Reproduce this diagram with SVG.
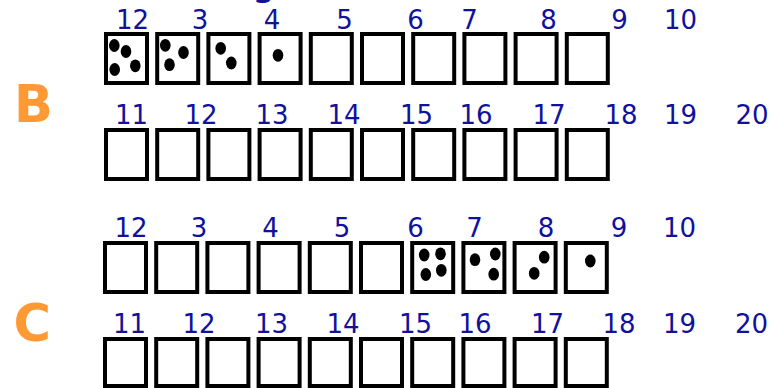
<svg xmlns="http://www.w3.org/2000/svg" width="770" height="388" viewBox="0 0 770 388">
<defs>
<style>
.box{fill:#fff;stroke:#000;stroke-width:4}
.num{font-family:"DejaVu Sans",Verdana,sans-serif;font-size:26px;fill:#11119c;text-anchor:middle}
.big{font-family:"DejaVu Sans","Liberation Sans",sans-serif;font-weight:bold;font-size:51px;fill:#ff9933}
.dot{fill:#000}
</style>
<rect id="b" class="box" width="41" height="49"/>
<rect id="bl" class="box" width="41" height="47"/>
</defs>
<rect width="770" height="388" fill="#fff"/>
<text x="253" y="-3" style="font-family:'DejaVu Sans',sans-serif;font-weight:bold;font-size:30px;fill:#11119c">g</text>

<g id="label-B"><text class="big" x="14" y="122">B</text></g>
<g id="label-C"><text class="big" x="13.5" y="341">C</text></g>

<g id="row1">
<g id="row1-labels">
<text class="num" x="132.5" y="29">12</text><text class="num" x="200" y="29">3</text><text class="num" x="272" y="29">4</text><text class="num" x="344.5" y="29">5</text><text class="num" x="415.5" y="29">6</text><text class="num" x="469.5" y="29">7</text><text class="num" x="548.5" y="29">8</text><text class="num" x="619.5" y="29">9</text><text class="num" x="680.5" y="29">10</text>
</g>
<g id="row1-boxes" transform="translate(0,34)">
<use href="#b" x="106"/><use href="#b" x="157.2"/><use href="#b" x="208.4"/><use href="#b" x="259.6"/><use href="#b" x="310.8"/><use href="#b" x="362"/><use href="#b" x="413.2"/><use href="#b" x="464.4"/><use href="#b" x="515.6"/><use href="#b" x="566.8"/>
</g>
<g id="row1-dots">
<ellipse class="dot" cx="114.3" cy="45.5" rx="5.3" ry="6.4"/><ellipse class="dot" cx="126" cy="51.5" rx="5.3" ry="6.4"/><ellipse class="dot" cx="114.7" cy="69.5" rx="5.3" ry="6.4"/><ellipse class="dot" cx="135.3" cy="65.8" rx="5.3" ry="6.4"/>
<ellipse class="dot" cx="165.3" cy="45.3" rx="5.3" ry="6.4"/><ellipse class="dot" cx="183.5" cy="52.5" rx="5.3" ry="6.4"/><ellipse class="dot" cx="169.5" cy="64.7" rx="5.3" ry="6.4"/>
<ellipse class="dot" cx="220.7" cy="48.3" rx="5.3" ry="6.4"/><ellipse class="dot" cx="231.3" cy="63" rx="5.3" ry="6.4"/>
<ellipse class="dot" cx="278" cy="55.3" rx="5.3" ry="6.4"/>
</g>
</g>

<g id="row2">
<g id="row2-labels">
<text class="num" x="131.5" y="124">11</text><text class="num" x="201" y="124">12</text><text class="num" x="272" y="124">13</text><text class="num" x="344" y="124">14</text><text class="num" x="416.5" y="124">15</text><text class="num" x="476" y="124">16</text><text class="num" x="549" y="124">17</text><text class="num" x="621" y="124">18</text><text class="num" x="680.5" y="124">19</text><text class="num" x="752" y="124">20</text>
</g>
<g id="row2-boxes" transform="translate(0,130)">
<use href="#b" x="106"/><use href="#b" x="157.2"/><use href="#b" x="208.4"/><use href="#b" x="259.6"/><use href="#b" x="310.8"/><use href="#b" x="362"/><use href="#b" x="413.2"/><use href="#b" x="464.4"/><use href="#b" x="515.6"/><use href="#b" x="566.8"/>
</g>
</g>

<g id="row3">
<g id="row3-labels">
<text class="num" x="131" y="237">12</text><text class="num" x="199" y="237">3</text><text class="num" x="270.5" y="237">4</text><text class="num" x="342" y="237">5</text><text class="num" x="415.5" y="237">6</text><text class="num" x="474.5" y="237">7</text><text class="num" x="546" y="237">8</text><text class="num" x="619" y="237">9</text><text class="num" x="679.5" y="237">10</text>
</g>
<g id="row3-boxes" transform="translate(-1,243)">
<use href="#b" x="106"/><use href="#b" x="157.2"/><use href="#b" x="208.4"/><use href="#b" x="259.6"/><use href="#b" x="310.8"/><use href="#b" x="362"/><use href="#b" x="413.2"/><use href="#b" x="464.4"/><use href="#b" x="515.6"/><use href="#b" x="566.8"/>
</g>
<g id="row3-dots">
<ellipse class="dot" cx="424.2" cy="255" rx="5.3" ry="6.4"/><ellipse class="dot" cx="440.5" cy="253.8" rx="5.3" ry="6.4"/><ellipse class="dot" cx="425.8" cy="274.5" rx="5.3" ry="6.4"/><ellipse class="dot" cx="441.3" cy="270.3" rx="5.3" ry="6.4"/>
<ellipse class="dot" cx="475" cy="259.7" rx="5.3" ry="6.4"/><ellipse class="dot" cx="495.3" cy="254" rx="5.3" ry="6.4"/><ellipse class="dot" cx="493.7" cy="274.2" rx="5.3" ry="6.4"/>
<ellipse class="dot" cx="544.2" cy="257.2" rx="5.3" ry="6.4"/><ellipse class="dot" cx="534.2" cy="273.3" rx="5.3" ry="6.4"/>
<ellipse class="dot" cx="590.3" cy="261" rx="5.3" ry="6.4"/>
</g>
</g>

<g id="row4">
<g id="row4-labels">
<text class="num" x="129.5" y="333">11</text><text class="num" x="199" y="333">12</text><text class="num" x="271.5" y="333">13</text><text class="num" x="343" y="333">14</text><text class="num" x="415.5" y="333">15</text><text class="num" x="475" y="333">16</text><text class="num" x="547.5" y="333">17</text><text class="num" x="619" y="333">18</text><text class="num" x="679.5" y="333">19</text><text class="num" x="751.5" y="333">20</text>
</g>
<g id="row4-boxes" transform="translate(-1,339)">
<use href="#bl" x="106"/><use href="#bl" x="157.2"/><use href="#bl" x="208.4"/><use href="#bl" x="259.6"/><use href="#bl" x="310.8"/><use href="#bl" x="362"/><use href="#bl" x="413.2"/><use href="#bl" x="464.4"/><use href="#bl" x="515.6"/><use href="#bl" x="566.8"/>
</g>
</g>
<g id="connectors"/>
</svg>
